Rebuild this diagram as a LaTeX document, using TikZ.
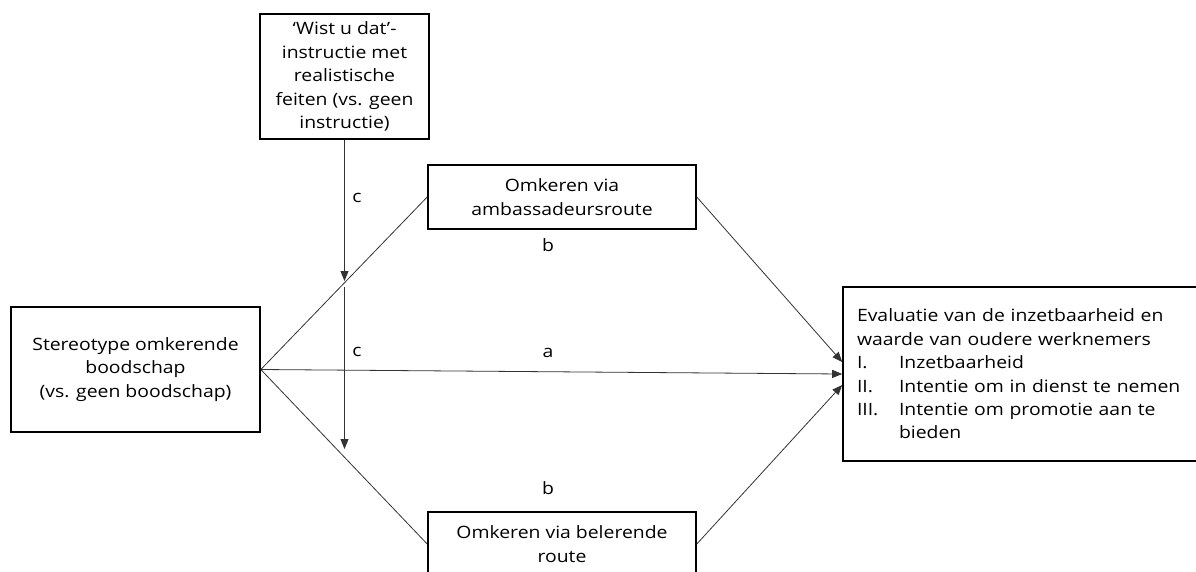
\documentclass[tikz,border=0pt]{standalone}
\usepackage{fontspec}
\setmainfont{Open Sans}[FakeStretch=1.14]
\usetikzlibrary{arrows.meta}
\begin{document}
\begin{tikzpicture}[x=1pt,y=-1pt,
  box/.style={draw=black,line width=1.6pt,rectangle,inner sep=0pt,align=center,
    font=\fontsize{17}{23.4}\selectfont},
  conn/.style={draw=black!80,line width=0.8pt},
  arr/.style={conn,-{Triangle[length=10pt,width=8pt]}},
  lbl/.style={font=\fontsize{17}{20}\selectfont,inner sep=0pt}]
\useasboundingbox (0,0) rectangle (1196,571);
\clip (0,0) rectangle (1196,571);

\node[box,minimum width=169pt,minimum height=125pt] (top) at (344.5,76.5)
  {‘Wist u dat’-\\instructie met\\realistische\\feiten (vs. geen\\instructie)};
\node[box,minimum width=249pt,minimum height=125pt] (st) at (135.5,369.5)
  {Stereotype omkerende\\boodschap\\(vs. geen boodschap)};
\node[box,minimum width=268pt,minimum height=64pt] (amb) at (562,197)
  {Omkeren via\\ambassadeursroute};
\node[box,minimum width=268pt,minimum height=64pt] (bel) at (562,544)
  {Omkeren via belerende\\route};
\node[box,minimum width=367pt,minimum height=174pt,align=left,text width=339pt,inner sep=14pt] (ev) at (1026.5,374)
  {Evaluatie van de inzetbaarheid en\\
   waarde van oudere werknemers\\
   \makebox[42pt][l]{I.}Inzetbaarheid\\
   \makebox[42pt][l]{II.}Intentie om in dienst te nemen\\
   \makebox[42pt][l]{III.}Intentie om promotie aan te\\
   \makebox[42pt][l]{}bieden};

\coordinate (c1) at (344.5,281);
\coordinate (c2) at (344.5,287);
\coordinate (c3) at (344.5,449);

\draw[conn] (st.east) -- (amb.west);
\draw[conn] (st.east) -- (bel.west);
\draw[arr] (st.east) -- (ev.west);
\draw[arr] (amb.east) -- ([yshift=12pt]ev.west);
\draw[arr] (bel.east) -- ([yshift=-11pt]ev.west);
\draw[arr] (top.south) -- (c1);
\draw[arr] (c2) -- (c3);

\node[lbl] (lc1) at (357,198) {c};
\node[lbl] (lb1) at (548,245) {b};
\node[lbl] (lc2) at (357,352) {c};
\node[lbl] (la) at (548,353) {a};
\node[lbl] (lb2) at (548,488) {b};
\end{tikzpicture}
\end{document}
